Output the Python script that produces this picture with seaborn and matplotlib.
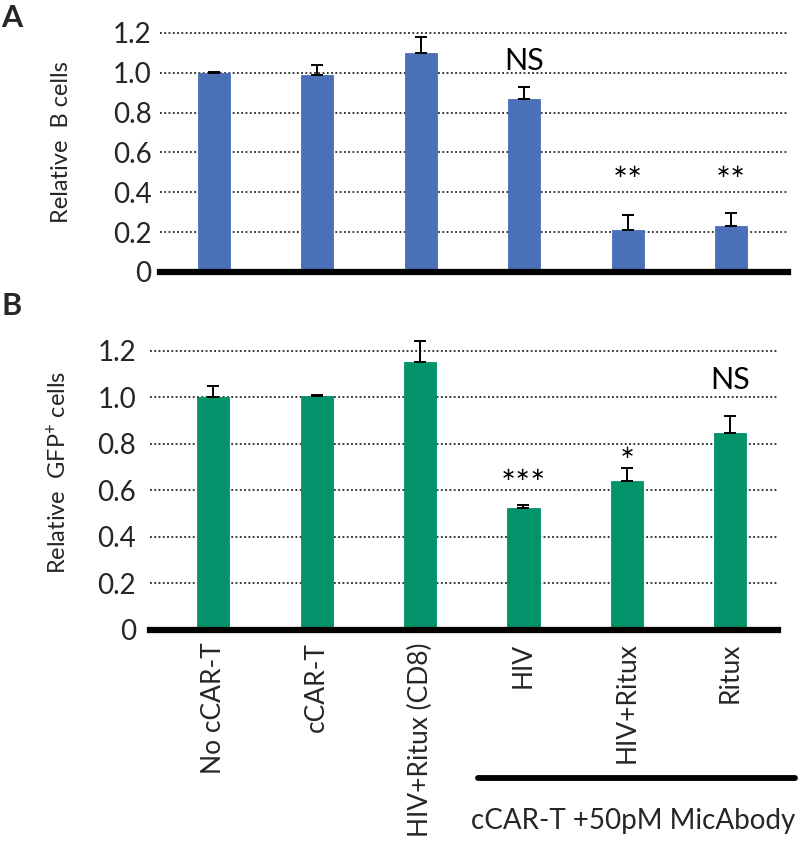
import matplotlib
matplotlib.use("Agg")
import matplotlib.pyplot as plt
import seaborn as sns
import pandas as pd
import numpy as np
from matplotlib.lines import Line2D

sns.set_theme(style="white")
plt.rcParams['font.family'] = ['Lato', 'DejaVu Sans']
plt.rcParams['mathtext.default'] = 'regular'

categories = ["No cCAR-T", "cCAR-T", "HIV+Ritux (CD8)", "HIV", "HIV+Ritux", "Ritux"]
b_cells = [1.00, 0.99, 1.10, 0.87, 0.21, 0.23]
b_cells_err = [0.005, 0.05, 0.08, 0.06, 0.075, 0.065]
b_cells_sig = ["", "", "", "NS", "**", "**"]
gfp_cells = [1.00, 1.005, 1.15, 0.525, 0.64, 0.848]
gfp_cells_err = [0.05, 0.005, 0.09, 0.012, 0.055, 0.07]
gfp_cells_sig = ["", "", "", "***", "*", "NS"]
yticks = [0, 0.2, 0.4, 0.6, 0.8, 1.0, 1.2]
ytick_labels = ["0", "0.2", "0.4", "0.6", "0.8", "1.0", "1.2"]

blue = "#4A70B7"
green = "#02936A"

W, H = 800, 841
fig = plt.figure(figsize=(8, 8.41), dpi=100)

axA = fig.add_axes([160 / W, 1 - 272 / H, 628 / W, 249.1 / H])
axB = fig.add_axes([150 / W, 1 - 630 / H, 628 / W, 302.6 / H])

def panel(ax, vals, errs, sigs, color, ylim, xlim, ylabel, sig_y, show_x):
    df = pd.DataFrame({"cat": categories, "val": vals})
    sns.barplot(data=df, x="cat", y="val", ax=ax, color=color, saturation=1,
                width=0.31, errorbar=None, edgecolor=color, linewidth=0.6, zorder=3)
    x = np.arange(len(categories))
    ax.errorbar(x, vals, yerr=[np.zeros(len(vals)), errs], fmt='none',
                ecolor='black', elinewidth=1.4, capsize=4, capthick=1.4, zorder=4)
    ax.set_ylim(*ylim)
    ax.set_xlim(*xlim)
    ax.set_yticks(yticks)
    ax.set_yticklabels(ytick_labels, fontsize=20)
    for y in yticks[1:]:
        ax.axhline(y, color='black', lw=1.1, ls=(0, (1.2, 1.6)), zorder=1)
    for s in ["top", "right", "left"]:
        ax.spines[s].set_visible(False)
    ax.spines["bottom"].set_linewidth(4.5)
    ax.spines["bottom"].set_color("black")
    ax.spines["bottom"].set_zorder(5)
    ax.tick_params(axis='y', length=0, pad=6)
    ax.tick_params(axis='x', length=0)
    ax.set_ylabel(ylabel, fontsize=17)
    ax.set_xlabel("")
    for xi, s, sy in zip(x, sigs, sig_y):
        if s == "NS":
            ax.text(xi, sy, s, ha='center', va='center', fontsize=22, color='black')
        elif s:
            ax.text(xi, sy, s.replace("*", "\u2217"), ha='center', va='center',
                    fontsize=13, color='black', family='DejaVu Sans')
    if show_x:
        ax.set_xticks(x)
        ax.set_xticklabels(categories, rotation=90, fontsize=19, va='top')
        ax.tick_params(axis='x', pad=9)
    else:
        ax.set_xticklabels([])

panel(axA, b_cells, b_cells_err, b_cells_sig, blue, (0, 1.25), (-0.52, 5.55),
      "Relative  B cells", [0, 0, 0, 1.06, 0.50, 0.50], False)
axA.yaxis.set_label_coords(-0.14, 0.52)

panel(axB, gfp_cells, gfp_cells_err, gfp_cells_sig, green, (0, 1.3), (-0.61, 5.46),
      "Relative  GFP$^{+}$ cells", [0, 0, 0, 0.665, 0.76, 1.075], True)
axB.tick_params(axis='y', pad=10)
axB.yaxis.set_label_coords(-0.127, 0.52)

fig.text(0.002, 1 - 4 / H, "A", fontsize=22, fontweight='bold', va='top', ha='left')
fig.text(0.002, 1 - 292 / H, "B", fontsize=22, fontweight='bold', va='top', ha='left')

fig.add_artist(Line2D([478 / W, 795 / W], [1 - 778 / H, 1 - 778 / H],
                      color='black', lw=4.2, transform=fig.transFigure))
fig.text(633 / W, 1 - 821 / H, "cCAR-T +50pM MicAbody", fontsize=20,
         ha='center', va='center')

fig.savefig("out.png", dpi=100)
